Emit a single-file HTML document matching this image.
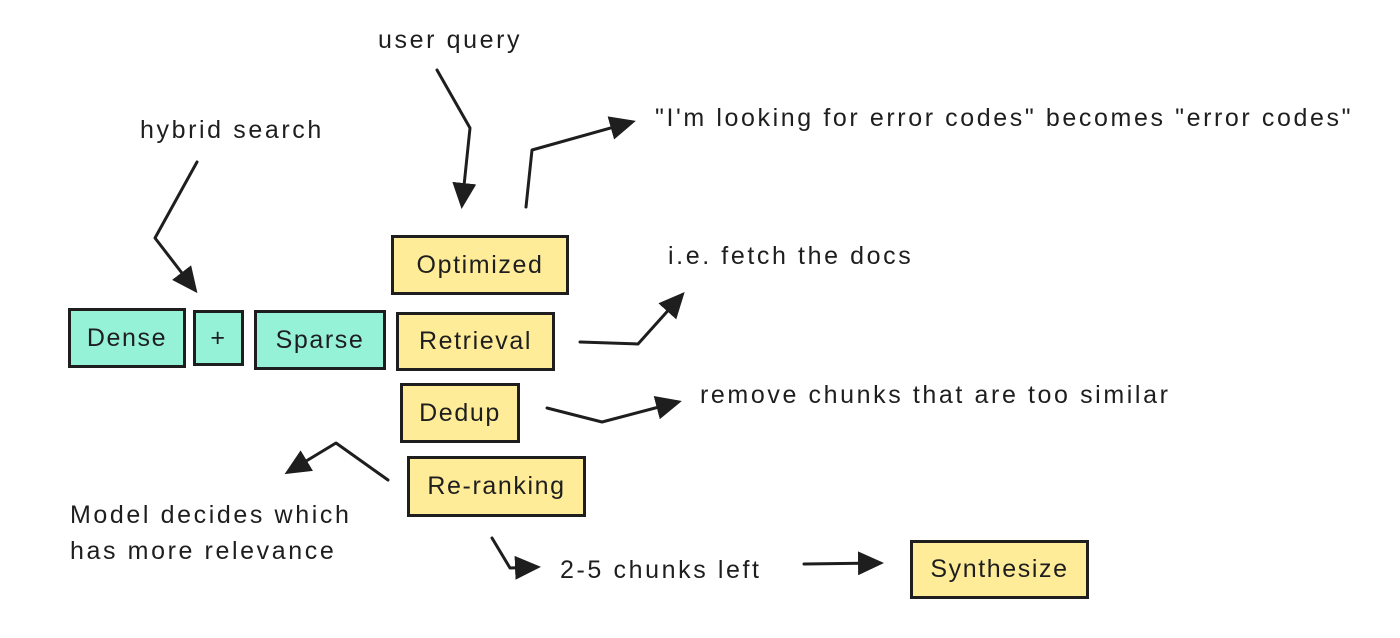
<!DOCTYPE html>
<html><head><style>
body{margin:0;width:1400px;height:638px;background:#fff;position:relative;overflow:hidden;font-family:"Liberation Sans",sans-serif;color:#1e1e1e;letter-spacing:2.6px}
.b{position:absolute;box-sizing:border-box;border:3px solid #1e1e1e;display:flex;align-items:center;justify-content:center;font-size:25px;letter-spacing:1.6px}
.t{background:#96f2d7}.y{background:#ffec99}
.l{position:absolute;font-size:25px;white-space:nowrap;line-height:1.45}
svg{position:absolute;left:0;top:0}
</style></head><body>
<svg width="1400" height="638" fill="none" stroke="#1e1e1e" stroke-width="3" stroke-linecap="round" stroke-linejoin="round">
<defs><marker id="a" markerWidth="26" markerHeight="24" refX="22" refY="12" orient="auto" markerUnits="userSpaceOnUse" viewBox="0 0 26 24"><path d="M0,0L26,12L0,24z" fill="#1e1e1e" stroke="none"/></marker></defs>
<g marker-end="url(#a)">
<path d="M197,162L155,238L195,290"/>
<path d="M437,70L470,128L462,205"/>
<path d="M526,207L532,150L632,122"/>
<path d="M580,342L638,344L682,295"/>
<path d="M547,408L602,422L678,402"/>
<path d="M388,480L336,443L288,472"/>
<path d="M492,538L510,568L537,567"/>
<path d="M804,564L880,563"/>
</g>
</svg>
<div class="l" style="left:378px;top:22px">user query</div>
<div class="l" style="left:140px;top:112px">hybrid search</div>
<div class="l" style="left:655px;top:100px">"I'm looking for error codes" becomes "error codes"</div>
<div class="l" style="left:668px;top:238px">i.e. fetch the docs</div>
<div class="l" style="left:700px;top:377px">remove chunks that are too similar</div>
<div class="l" style="left:70px;top:497px">Model decides which<br>has more relevance</div>
<div class="l" style="left:560px;top:552px">2-5 chunks left</div>
<div class="b y" style="left:391px;top:235px;width:178px;height:60px">Optimized</div>
<div class="b t" style="left:68px;top:308px;width:118px;height:60px">Dense</div>
<div class="b t" style="left:193px;top:310px;width:51px;height:56px">+</div>
<div class="b t" style="left:254px;top:310px;width:132px;height:60px">Sparse</div>
<div class="b y" style="left:396px;top:312px;width:159px;height:59px">Retrieval</div>
<div class="b y" style="left:400px;top:383px;width:120px;height:60px">Dedup</div>
<div class="b y" style="left:407px;top:456px;width:179px;height:61px">Re-ranking</div>
<div class="b y" style="left:910px;top:540px;width:179px;height:59px">Synthesize</div>
</body></html>
